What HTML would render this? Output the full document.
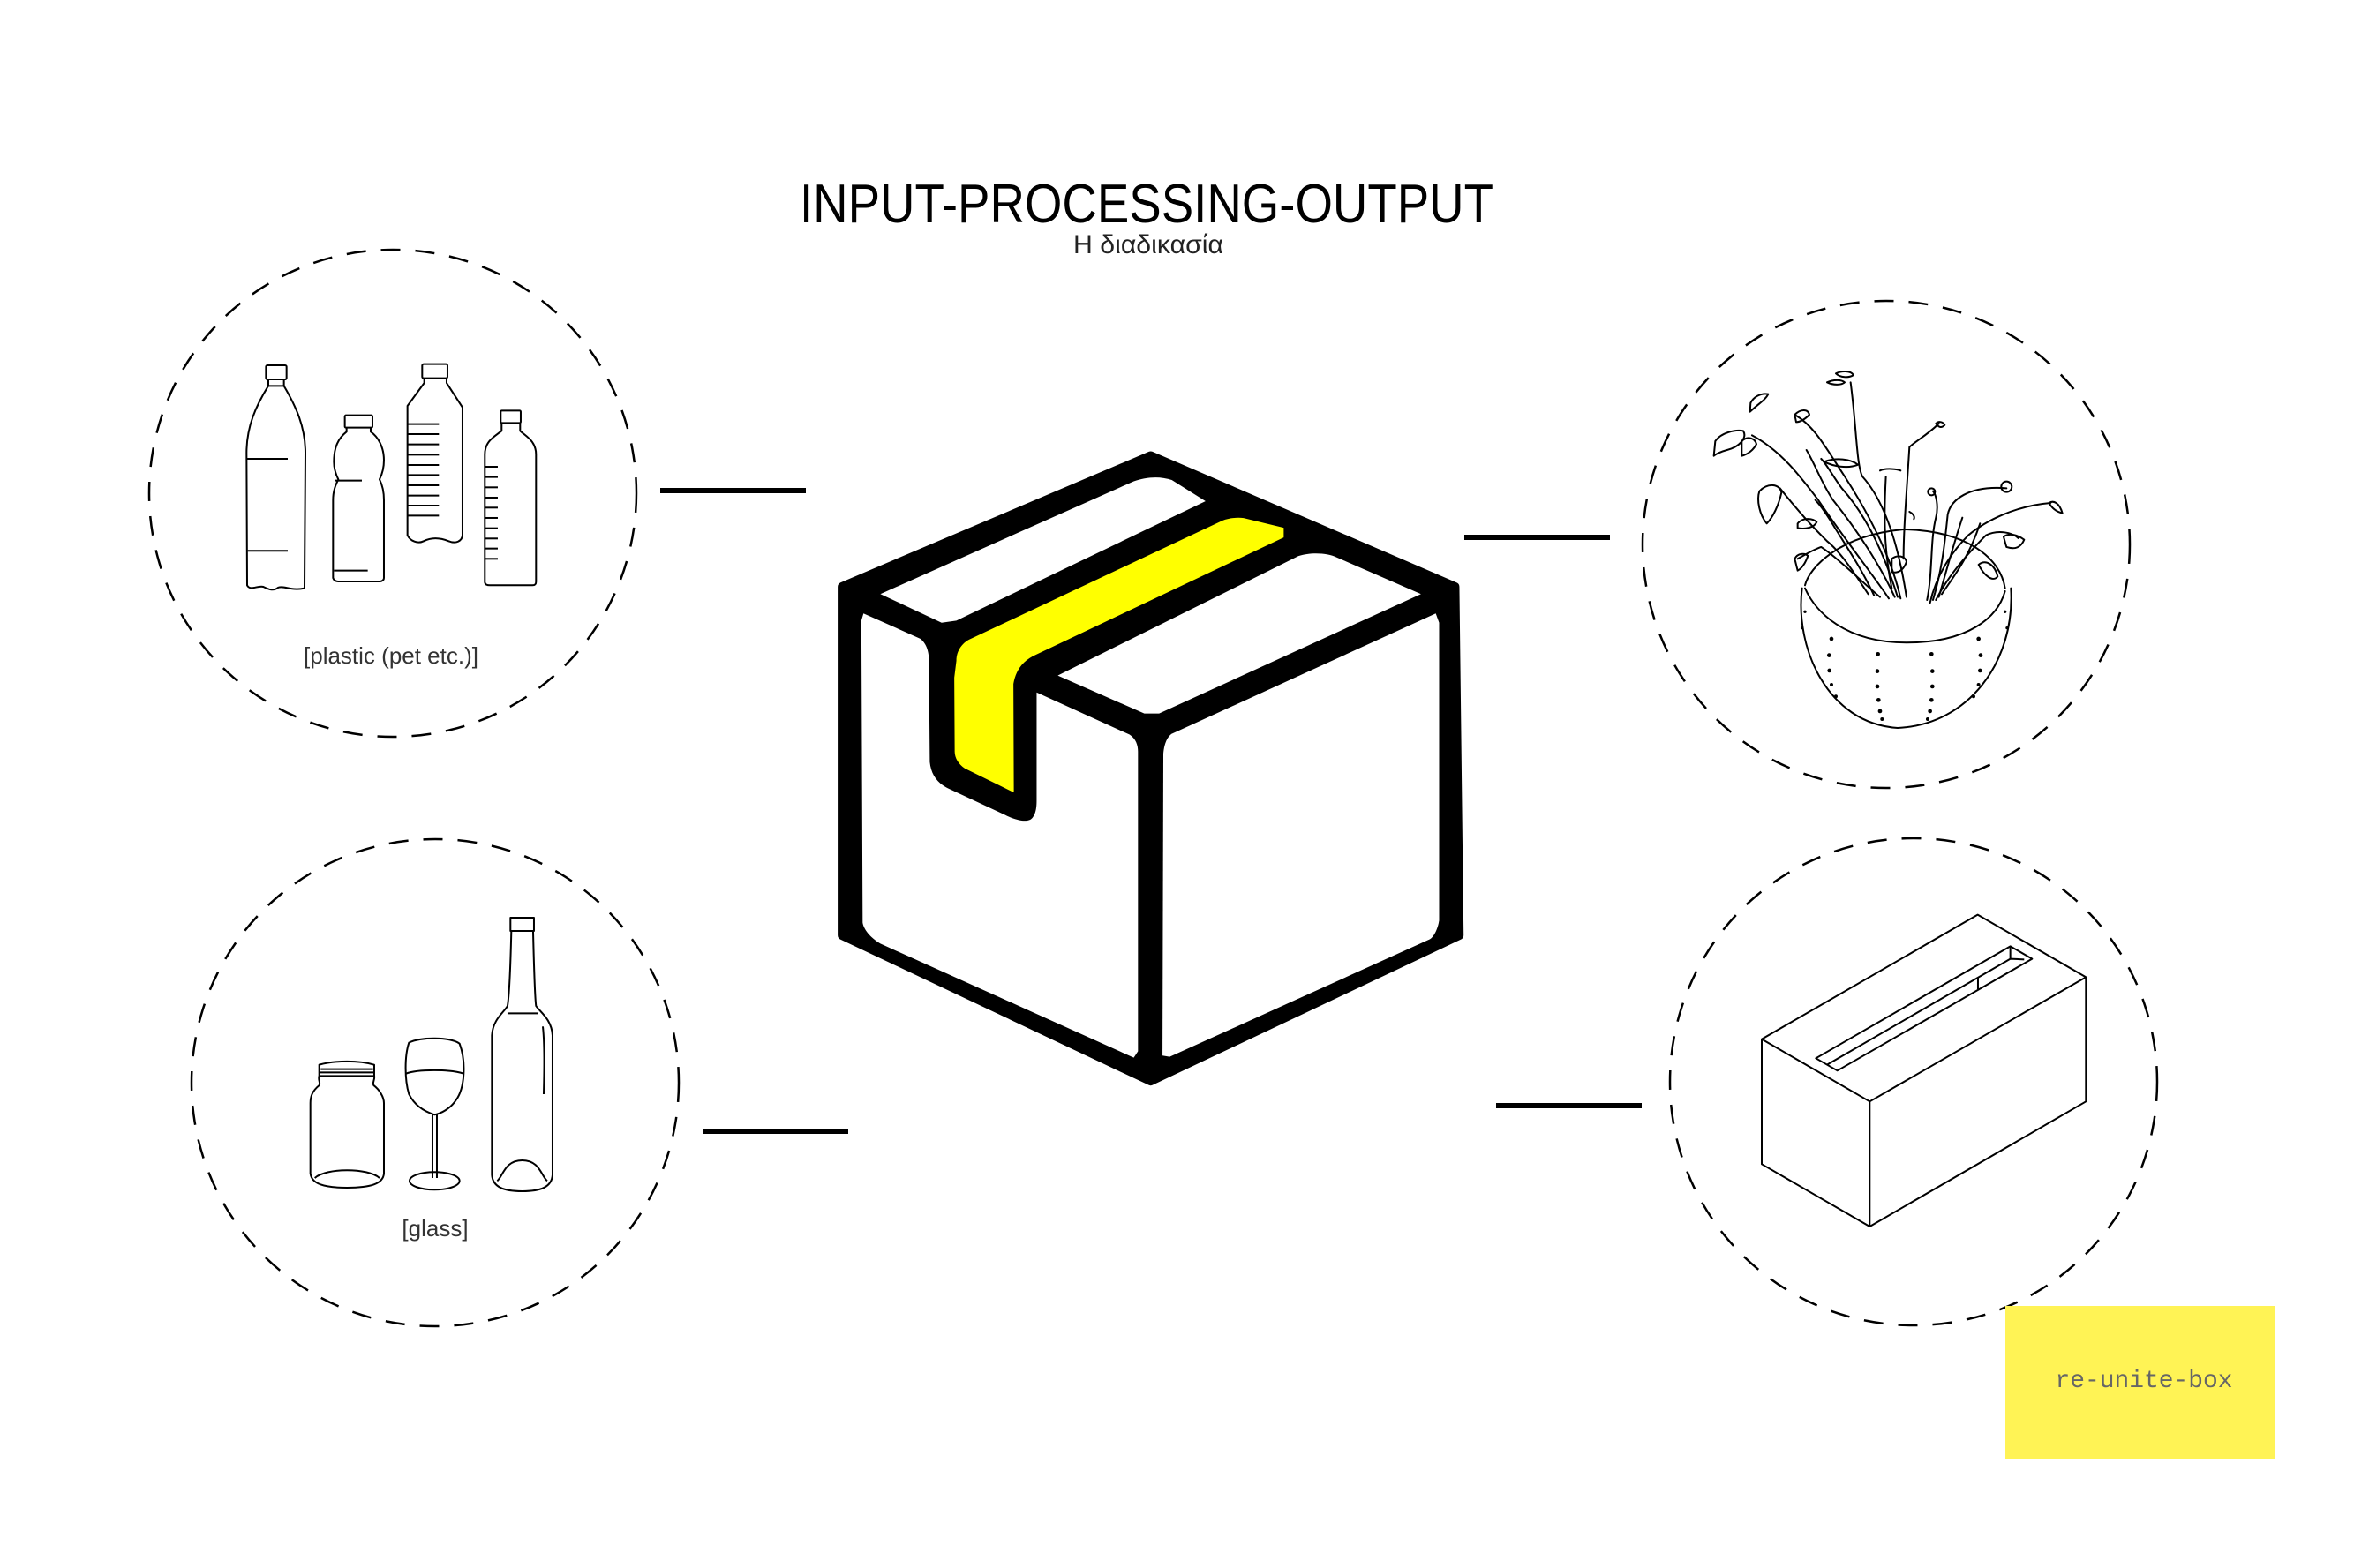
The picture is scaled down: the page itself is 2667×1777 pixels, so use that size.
<!DOCTYPE html>
<html><head><meta charset="utf-8"><style>
html,body{margin:0;padding:0;background:#fff;}
svg{display:block;}
</style></head><body>
<svg width="2667" height="1777" viewBox="0 0 2667 1777" xmlns="http://www.w3.org/2000/svg">
<rect width="2667" height="1777" fill="#fff"/>
<!-- title -->
<text x="1299" y="252" text-anchor="middle" font-family="Liberation Sans, sans-serif" font-size="62" textLength="786" lengthAdjust="spacingAndGlyphs" fill="#000">INPUT-PROCESSING-OUTPUT</text>
<text x="1301" y="287" text-anchor="middle" font-family="Liberation Sans, DejaVu Sans, sans-serif" font-size="30" textLength="170" lengthAdjust="spacingAndGlyphs" fill="#222">Η διαδικασία</text>

<!-- dashed circles -->
<g fill="none" stroke="#000" stroke-width="2.5" stroke-dasharray="22 17">
<circle cx="445" cy="559" r="276"/>
<circle cx="493" cy="1227" r="276"/>
<circle cx="2137" cy="617" r="276"/>
<circle cx="2168" cy="1226" r="276"/>
</g>
<!-- connectors -->
<g stroke="#000" stroke-width="6">
<line x1="748" y1="556" x2="913" y2="556"/>
<line x1="796" y1="1282" x2="961" y2="1282"/>
<line x1="1659" y1="609" x2="1824" y2="609"/>
<line x1="1695" y1="1253" x2="1860" y2="1253"/>
</g>

<!-- central box -->
<g transform="translate(940,500) scale(0.4785)">
<path d="M760,35 L1480,345 L1490,1170 L760,1515 L30,1170 L30,345 Z" fill="#000" stroke="#000" stroke-width="22" stroke-linejoin="round"/>
<path d="M120,362 L720,95 C750,85 780,82 810,92 L890,142 L300,425 L265,430 Z" fill="#fff"/>
<path d="M540,555 L1110,272 C1140,262 1180,265 1200,275 L1400,362 L780,645 L745,645 Z" fill="#fff"/>
<path d="M80,408 L215,468 C230,480 235,500 235,520 L237,760 C240,790 255,810 280,822 L415,885 C440,898 470,905 480,892 C490,880 490,860 490,850 L490,595 L710,695 C725,705 730,720 730,735 L730,1445 L720,1460 L120,1190 C95,1175 80,1155 78,1140 L75,425 Z" fill="#fff"/>
<path d="M810,693 L1435,408 L1443,430 L1443,1135 C1440,1155 1430,1175 1420,1180 L805,1458 L788,1455 L790,740 C792,715 800,700 810,693 Z" fill="#fff"/>
<path d="M300,520 C300,495 315,478 330,470 L930,188 C945,182 965,180 980,182 L1075,205 L1075,228 L490,505 C455,520 440,545 435,575 L436,832 L320,775 C305,765 296,750 296,735 L295,560 Z" fill="#ff0"/>
</g>

<!-- plastic bottles -->
<g transform="translate(260,400) scale(0.3333)" fill="none" stroke="#000" stroke-width="6" stroke-linejoin="round">
<rect x="124" y="42" width="70" height="48" rx="5"/>
<path d="M132,90 L132,112 C90,180 58,250 58,340 L60,790 C70,810 95,790 115,795 C135,805 150,810 165,798 C185,790 210,810 255,800 L258,340 C258,250 225,180 185,112 L185,90"/>
<line x1="130" y1="112" x2="188" y2="112"/>
<line x1="60" y1="360" x2="198" y2="360"/><line x1="62" y1="673" x2="198" y2="673"/>
<rect x="392" y="212" width="94" height="42" rx="4"/>
<path d="M398,254 L398,268 C370,290 355,320 355,370 C355,400 365,420 370,430 C360,450 352,470 352,500 L352,765 C355,775 362,777 370,777 L512,777 C522,775 525,770 525,765 L525,500 C525,470 520,450 510,430 C520,410 525,390 525,365 C525,320 505,285 480,268 L480,254"/>
<line x1="360" y1="434" x2="450" y2="434"/><line x1="355" y1="740" x2="470" y2="740"/>
<rect x="655" y="38" width="86" height="48" rx="5"/>
<path d="M662,86 L662,102 L605,180 L605,620 C615,640 640,650 660,640 C690,625 720,630 745,640 C770,650 790,640 792,620 L792,185 L738,102 L738,86"/>
<g><line x1="605" y1="242" x2="712" y2="242"/><line x1="605" y1="276" x2="712" y2="276"/><line x1="605" y1="311" x2="712" y2="311"/><line x1="605" y1="346" x2="712" y2="346"/><line x1="605" y1="381" x2="712" y2="381"/><line x1="605" y1="415" x2="712" y2="415"/><line x1="605" y1="450" x2="712" y2="450"/><line x1="605" y1="485" x2="712" y2="485"/><line x1="605" y1="519" x2="712" y2="519"/><line x1="605" y1="553" x2="712" y2="553"/></g>
<rect x="922" y="196" width="68" height="42" rx="4"/>
<path d="M925,238 L925,265 C900,285 868,300 868,345 L868,780 C870,788 875,790 885,790 L1030,790 C1040,790 1042,785 1042,778 L1042,345 C1042,300 1010,285 988,265 L988,238"/>
<g><line x1="870" y1="387" x2="912" y2="387"/><line x1="870" y1="422" x2="912" y2="422"/><line x1="870" y1="457" x2="912" y2="457"/><line x1="870" y1="492" x2="912" y2="492"/><line x1="870" y1="526" x2="912" y2="526"/><line x1="870" y1="561" x2="912" y2="561"/><line x1="870" y1="596" x2="912" y2="596"/><line x1="870" y1="631" x2="912" y2="631"/><line x1="870" y1="665" x2="912" y2="665"/><line x1="870" y1="700" x2="912" y2="700"/></g>
</g>
<text x="443" y="752" text-anchor="middle" font-family="Liberation Sans, sans-serif" font-size="26" fill="#333">[plastic (pet etc.)]</text>

<!-- glass -->
<g transform="translate(330,1030) scale(0.3333)" fill="none" stroke="#000" stroke-width="6" stroke-linejoin="round">
<path d="M95,530 C150,515 230,515 282,530 L282,568 L95,568 Z"/>
<path d="M100,545 L278,545 M98,556 L280,556"/>
<path d="M95,568 C90,580 100,590 95,600 C70,620 65,640 65,660 L65,900 C70,935 110,948 190,948 C270,948 312,935 315,900 L315,660 C315,640 300,615 280,600 C275,590 285,580 282,568"/>
<path d="M80,915 C120,880 260,880 300,915"/>
<path d="M400,455 C440,435 540,435 572,458 C595,520 590,610 560,650 C540,680 510,695 487,700 C455,690 420,670 400,630 C385,580 385,500 400,455 Z"/>
<path d="M390,560 C430,545 540,545 586,560"/>
<line x1="480" y1="700" x2="480" y2="915"/><line x1="495" y1="700" x2="495" y2="915"/>
<ellipse cx="487" cy="925" rx="85" ry="30"/>
<path d="M745,30 L825,30 L825,75 L745,75 Z"/>
<path d="M748,75 C745,200 740,300 735,330 C725,350 685,375 682,430 L682,905 C685,945 720,960 785,960 C850,960 885,945 888,905 L888,430 C885,375 845,350 832,330 C828,300 825,200 822,75"/>
<path d="M735,355 L838,355"/>
<path d="M700,925 C720,910 725,855 785,855 C845,855 850,910 870,925"/>
<path d="M855,400 C862,460 860,560 858,630"/>
</g>
<text x="493" y="1401" text-anchor="middle" font-family="Liberation Sans, sans-serif" font-size="26" fill="#333">[glass]</text>

<!-- plant -->
<g transform="translate(1930,400) scale(0.3333)" fill="none" stroke="#000" stroke-width="6" stroke-linejoin="round" stroke-linecap="round">
<path d="M335,800 C310,1000 420,1260 660,1275 C900,1265 1060,1050 1045,800"/>
<path d="M345,790 C360,730 460,620 680,600 C900,605 1010,700 1025,800"/>
<path d="M345,800 C380,880 480,985 690,985 C900,985 1000,900 1025,810"/>
<g fill="#000" stroke="none">
<circle cx="345" cy="880" r="5"/><circle cx="335" cy="935" r="5"/><circle cx="435" cy="972" r="7"/><circle cx="427" cy="1028" r="7"/><circle cx="428" cy="1080" r="7"/><circle cx="435" cy="1128" r="6"/><circle cx="450" cy="1168" r="6"/>
<circle cx="593" cy="1024" r="7"/><circle cx="591" cy="1082" r="7"/><circle cx="591" cy="1134" r="7"/><circle cx="595" cy="1180" r="7"/><circle cx="600" cy="1218" r="7"/><circle cx="607" cy="1245" r="6"/>
<circle cx="775" cy="1024" r="7"/><circle cx="778" cy="1082" r="7"/><circle cx="778" cy="1134" r="7"/><circle cx="775" cy="1180" r="7"/><circle cx="770" cy="1218" r="7"/><circle cx="762" cy="1245" r="6"/>
<circle cx="935" cy="972" r="7"/><circle cx="942" cy="1028" r="7"/><circle cx="940" cy="1080" r="7"/><circle cx="935" cy="1128" r="6"/><circle cx="918" cy="1168" r="6"/>
<circle cx="1025" cy="880" r="5"/><circle cx="1032" cy="935" r="5"/>
</g>
<path d="M630,835 C580,760 470,620 390,500 C330,420 260,330 165,280"/>
<path d="M650,830 C600,720 520,600 440,500 C400,440 380,380 350,330"/>
<path d="M670,835 C640,700 570,560 480,420 C420,330 380,250 310,210"/>
<path d="M690,830 C670,700 630,520 540,420 C520,380 520,250 500,100"/>
<path d="M660,830 C620,700 560,560 470,460 C440,420 420,380 400,360"/>
<path d="M560,820 C520,760 470,680 420,640 C380,600 340,560 260,460"/>
<path d="M600,830 C540,780 460,700 400,660 C370,670 340,690 320,700"/>
<path d="M580,825 C540,740 500,680 450,600 C420,550 400,520 380,500"/>
<path d="M680,700 C680,600 690,480 700,320 C720,300 760,280 800,240"/>
<path d="M640,800 C620,700 610,600 620,420"/>
<path d="M770,850 C790,760 840,680 900,620 C960,570 1060,520 1180,510"/>
<path d="M780,840 C810,740 820,650 830,550 C840,500 900,450 1030,460"/>
<path d="M790,840 C830,760 900,680 960,620 C1000,600 1050,610 1070,630"/>
<path d="M760,840 C780,740 770,640 790,560 C800,520 790,480 780,470"/>
<path d="M800,830 C820,760 850,650 880,560"/>
<path d="M810,820 C850,760 900,700 940,580"/>
<path d="M40,300 C60,270 110,260 135,265 C150,290 120,320 80,330 C60,335 40,345 35,350 Z"/>
<path d="M130,300 C150,280 175,290 180,310 C170,330 150,345 130,350 Z"/>
<path d="M190,470 C220,440 260,445 265,475 C255,520 235,560 215,580 C190,550 180,500 190,470 Z"/>
<path d="M160,170 C170,150 195,135 220,140 C210,160 190,170 158,200 Z"/>
<path d="M310,210 C330,190 355,190 360,210 C345,225 330,235 315,235 Z"/>
<path d="M420,100 C440,90 470,90 480,100 C470,110 440,110 420,100 Z"/>
<path d="M450,70 C470,60 500,60 510,75 C495,85 465,85 450,70 Z"/>
<path d="M410,370 C450,355 500,360 525,380 C490,395 440,385 410,370 Z"/>
<path d="M320,580 C335,560 370,560 385,575 C375,595 345,600 320,595 Z"/>
<path d="M310,700 C320,680 345,680 355,690 C345,720 330,735 320,740 Z"/>
<path d="M640,700 C660,685 685,690 690,710 C680,740 660,750 640,745 Z"/>
<path d="M935,720 C960,700 990,720 1000,760 C985,780 955,760 935,720 Z"/>
<path d="M1020,625 C1040,610 1070,620 1090,635 C1080,660 1060,670 1030,660 Z"/>
<path d="M1175,510 C1190,500 1210,510 1220,545 C1200,540 1185,530 1175,510 Z"/>
<circle cx="1030" cy="455" r="18"/><circle cx="775" cy="472" r="12"/>
<path d="M790,240 C800,230 815,235 820,245 C810,255 800,255 790,240 Z"/>
<path d="M600,400 C620,390 660,395 670,400"/>
<path d="M700,540 C710,545 720,555 715,565"/>
</g>

<!-- storage box -->
<g transform="translate(1980,1030) scale(0.3333)" fill="none" stroke="#000" stroke-width="6" stroke-linejoin="round">
<path d="M48,443 L782,20 L1150,232 L1150,655 L415,1080 L48,868 Z"/>
<path d="M48,443 L415,655 L1150,232"/>
<line x1="415" y1="655" x2="415" y2="1080"/>
<path d="M232,508 L893,127 L967,170 L305,550 Z"/>
<path d="M270,530 L893,170 L940,172"/>
<line x1="893" y1="127" x2="893" y2="170"/>
<line x1="783" y1="233" x2="783" y2="273"/>
</g>

<!-- label -->
<rect x="2272" y="1480" width="306" height="173" fill="#fff355"/>
<text x="2429" y="1572" text-anchor="middle" font-family="Liberation Mono, monospace" font-size="28" textLength="201" lengthAdjust="spacingAndGlyphs" fill="#666">re-unite-box</text>
</svg>
</body></html>
